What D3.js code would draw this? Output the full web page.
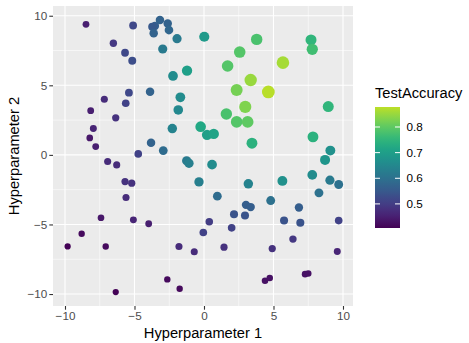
<!DOCTYPE html>
<html><head><meta charset="utf-8">
<script src="https://cdn.jsdelivr.net/npm/d3@7"></script>
<style>body{margin:0;background:#fff;} text{font-family:"Liberation Sans",Arial,sans-serif;}</style>
</head><body><svg id="c" width="469" height="343"></svg>
<script>
const hp1 = [-8.49,-5.1,-3.17,-3.53,-3.72,-2.61,-2.52,-3.62,-1.94,0.02,-6.52,-5.68,-2.97,-5.16,-1.22,-2.23,-3.88,-5.4,-7.17,-5.63,-1.7,-1.85,-8.15,-6.35,-7.96,-8.22,-7.79,-2.28,-3.81,-2.93,-4.73,-0.24,0.22,0.7,
3.79,7.7,7.79,2.57,1.7,5.68,3.36,2.35,4.63,2.97,1.61,2.35,3.14,8.94,3.45,7.84,9.09,
-6.93,-6.28,-1.25,-1.08,-5.68,-5.2,-0.36,-5.61,-7.41,-5.08,-3.98,-8.8,-9.81,-7.07,-1.8,-0.7,-0.05,-2.64,-1.75,-6.35,
8.71,0.58,3.19,5.64,7.79,9.06,9.69,8.27,0.96,4.8,3.02,3.36,6.83,2.16,2.95,0.38,5.76,6.93,9.69,1.99,6.4,1.44,4.91,9.59,4.39,4.73,7.27,7.5];
const hp2 = [9.38,9.3,9.7,9.26,9.21,9.45,8.97,8.74,8.35,8.49,8.02,7.34,7.61,6.77,6.05,5.67,4.54,4.47,4.0,3.71,4.14,3.23,3.18,2.66,1.89,1.22,0.6,1.89,0.88,0.31,0.07,2.03,1.44,1.51,
8.3,8.26,7.59,7.39,6.39,6.63,5.38,4.67,4.52,3.45,2.94,2.37,2.37,3.47,0.84,1.29,0.31,
-0.48,-0.72,-0.43,-0.6,-1.92,-2.03,-1.94,-3.06,-4.52,-4.67,-4.95,-5.67,-6.58,-6.58,-6.58,-6.96,-5.58,-8.95,-9.62,-9.86,
-0.36,-0.7,-2.08,-1.87,-1.44,-1.82,-2.13,-2.73,-2.97,-3.28,-3.59,-3.75,-3.78,-4.26,-4.36,-4.81,-4.72,-4.88,-4.72,-5.24,-6.05,-6.63,-6.73,-6.94,-9.05,-8.85,-8.57,-8.52];
const acc = [0.45,0.52,0.57,0.56,0.55,0.57,0.58,0.57,0.62,0.69,0.49,0.52,0.62,0.53,0.70,0.66,0.57,0.52,0.47,0.51,0.66,0.65,0.45,0.48,0.46,0.44,0.45,0.64,0.57,0.59,0.51,0.72,0.70,0.71,
0.78,0.75,0.77,0.79,0.79,0.86,0.85,0.82,0.875,0.83,0.78,0.79,0.80,0.75,0.74,0.74,0.67,
0.47,0.47,0.62,0.63,0.48,0.48,0.63,0.47,0.44,0.46,0.45,0.42,0.41,0.42,0.47,0.47,0.51,0.42,0.42,0.41,
0.68,0.66,0.64,0.67,0.66,0.62,0.60,0.60,0.59,0.60,0.56,0.56,0.56,0.54,0.54,0.50,0.54,0.54,0.51,0.51,0.49,0.48,0.48,0.46,0.43,0.43,0.43,0.43];
const xTicks = [-10,-5,0,5,10];
const yTicks = [-10,-5,0,5,10];
const legendTicks = [0.5,0.6,0.7,0.8];

const svg = d3.select("#c");
const L=53,R=353,T=6,B=306;
const x = d3.scaleLinear().domain([-10.863,10.72]).range([L,R]);
const y = d3.scaleLinear().domain([-10.86,10.70]).range([B,T]);
const cDom=[0.406,0.878];
const col = d3.scaleSequential(t=>d3.interpolateViridis(t*0.9)).domain(cDom);
const rad = d3.scaleLinear().domain(cDom).range([3.1,6.4]);

svg.append("rect").attr("x",L).attr("y",T).attr("width",R-L).attr("height",B-T).attr("fill","#EBEBEB");
const minor=[-7.5,-2.5,2.5,7.5];
const g=svg.append("g");
minor.forEach(v=>{
  g.append("line").attr("x1",x(v)).attr("x2",x(v)).attr("y1",T).attr("y2",B).attr("stroke","#fff").attr("stroke-width",0.55);
  g.append("line").attr("y1",y(v)).attr("y2",y(v)).attr("x1",L).attr("x2",R).attr("stroke","#fff").attr("stroke-width",0.55);
});
xTicks.forEach(v=>g.append("line").attr("x1",x(v)).attr("x2",x(v)).attr("y1",T).attr("y2",B).attr("stroke","#fff").attr("stroke-width",1.1));
yTicks.forEach(v=>g.append("line").attr("y1",y(v)).attr("y2",y(v)).attr("x1",L).attr("x2",R).attr("stroke","#fff").attr("stroke-width",1.1));

const pts = hp1.map((d,i)=>({x:d,y:hp2[i],a:acc[i]}));
svg.append("g").selectAll("circle").data(pts).join("circle")
  .attr("cx",d=>x(d.x)).attr("cy",d=>y(d.y)).attr("r",d=>rad(d.a)).attr("fill",d=>col(d.a));

const xa = svg.append("g").attr("transform",`translate(0,${B})`).call(d3.axisBottom(x).tickValues(xTicks).tickSize(3.7).tickPadding(2).tickFormat(d=>d<0?"\u2212"+(-d):d));
const ya = svg.append("g").attr("transform",`translate(${L},0)`).call(d3.axisLeft(y).tickValues(yTicks).tickSize(3.7).tickPadding(2).tickFormat(d=>d<0?"\u2212"+(-d):d));
[xa,ya].forEach(a=>{a.select(".domain").remove();a.selectAll("line").attr("stroke","#333").attr("stroke-width",1.1);
  a.selectAll("text").attr("fill","#4D4D4D").style("font-size","11.7px").style("font-family","Liberation Sans, Arial, sans-serif");});

svg.append("text").attr("x",(L+R)/2).attr("y",338).attr("text-anchor","middle").style("font-size","14.7px").text("Hyperparameter 1");
svg.append("text").attr("transform",`translate(19,${(T+B)/2}) rotate(-90)`).attr("text-anchor","middle").style("font-size","14.7px").text("Hyperparameter 2");

// legend
const lx=375,lw=25,lt=107,lb=228;
const defs=svg.append("defs");
const grad=defs.append("linearGradient").attr("id","lg").attr("x1",0).attr("y1",1).attr("x2",0).attr("y2",0);
d3.range(0,1.0001,0.05).forEach(t=>grad.append("stop").attr("offset",t).attr("stop-color",col(cDom[0]+t*(cDom[1]-cDom[0]))));
svg.append("rect").attr("x",lx).attr("y",lt).attr("width",lw).attr("height",lb-lt).attr("fill","url(#lg)");
const ly=d3.scaleLinear().domain(cDom).range([lb,lt]);
legendTicks.forEach(v=>{
  svg.append("line").attr("x1",lx).attr("x2",lx+5).attr("y1",ly(v)).attr("y2",ly(v)).attr("stroke","#fff").attr("stroke-width",1);
  svg.append("line").attr("x1",lx+lw-5).attr("x2",lx+lw).attr("y1",ly(v)).attr("y2",ly(v)).attr("stroke","#fff").attr("stroke-width",1);
  svg.append("text").attr("x",406.5).attr("y",ly(v)+4.2).style("font-size","11.7px").attr("fill","#000").text(v.toFixed(1));
});
svg.append("text").attr("x",375).attr("y",98).style("font-size","14.7px").text("TestAccuracy");
</script></body></html>
